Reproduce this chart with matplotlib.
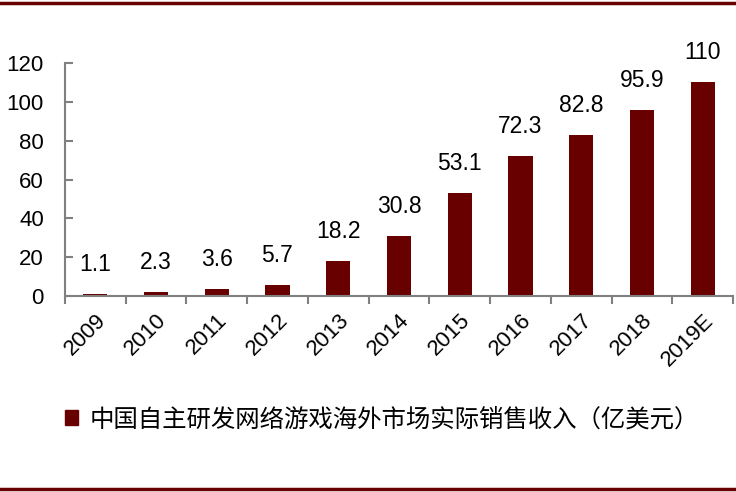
import matplotlib
matplotlib.use('Agg')
import matplotlib.pyplot as plt
from matplotlib.lines import Line2D
from matplotlib.patches import Patch

plt.rcParams['font.family'] = ['Liberation Sans', 'Noto Sans CJK SC', 'DejaVu Sans']

years = ['2009', '2010', '2011', '2012', '2013', '2014', '2015', '2016', '2017', '2018', '2019E']
revenue = [1.1, 2.3, 3.6, 5.7, 18.2, 30.8, 53.1, 72.3, 82.8, 95.9, 110]
series_name = '中国自主研发网络游戏海外市场实际销售收入（亿美元）'

bar_color = '#680000'
axis_color = '#808080'

fig = plt.figure(figsize=(7.36, 4.92), dpi=100)
ax = fig.add_axes([0.088, 0.398, 0.908, 0.474])

x = list(range(len(years)))
ax.bar(x, revenue, width=0.4, color=bar_color)

for xi, v in zip(x, revenue):
    ax.annotate('%g' % v, (xi, v), xytext=(0, 13), textcoords='offset points',
                ha='center', va='bottom', fontsize=16.5)

ax.set_xlim(-0.5, len(years) - 0.5)
ax.set_ylim(0, 120)
ax.set_yticks(range(0, 121, 20))
ax.tick_params(axis='y', direction='in', length=6, width=1.5, color=axis_color,
               labelsize=16, pad=15)
ax.set_xticks(x)
ax.set_xticklabels(years, rotation=45, ha='right', rotation_mode='anchor', fontsize=16)
ax.tick_params(axis='x', which='major', length=0, pad=10)
ax.set_xticks([i - 0.5 for i in range(len(years) + 1)], minor=True)
ax.tick_params(axis='x', which='minor', direction='out', length=6, width=1.5, color=axis_color)

for s in ['top', 'right']:
    ax.spines[s].set_visible(False)
for s in ['left', 'bottom']:
    ax.spines[s].set_color(axis_color)
    ax.spines[s].set_linewidth(1.5)

leg = ax.legend(handles=[Patch(color=bar_color, label=series_name)],
                loc='center left', bbox_to_anchor=(0.058, 0.148),
                bbox_transform=fig.transFigure, frameon=False,
                handlelength=0.55, handleheight=0.55, handletextpad=0.45,
                prop={'family': ['Noto Sans CJK SC'], 'size': 17.6})

fig.add_artist(Line2D([0, 1], [0.994, 0.994], color=bar_color, lw=2.5))
fig.add_artist(Line2D([0, 1], [0.006, 0.006], color=bar_color, lw=2.5))

plt.savefig('out.png', dpi=100)
